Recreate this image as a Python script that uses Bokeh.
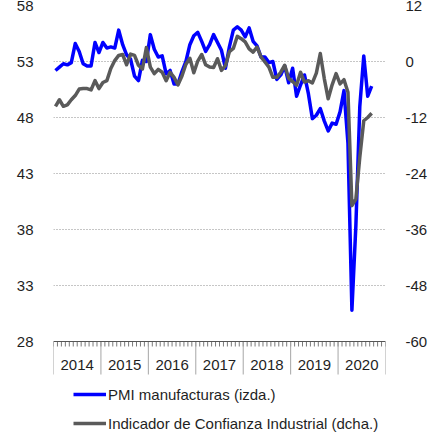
import numpy as np
from bokeh.plotting import figure
from bokeh.models import Range1d, LinearAxis, FixedTicker, Legend, LegendItem, Span
from bokeh.core.properties import value
from bokeh.embed import file_html
from bokeh.resources import INLINE

# ---- data ----
years = ["2014", "2015", "2016", "2017", "2018", "2019", "2020"]

pmi = [52.2, 52.5, 52.8, 52.7, 52.9, 54.6, 53.9, 52.8, 52.6, 52.6, 54.7, 53.8,
       54.7, 54.2, 54.3, 54.2, 55.8, 54.5, 53.6, 53.2, 51.7, 51.3, 53.1, 53.0,
       55.4, 54.1, 53.4, 53.5, 51.9, 52.2, 51.0, 51.0, 52.1, 53.0, 54.5, 55.3,
       55.6, 54.8, 53.9, 54.5, 55.4, 54.7, 54.0, 52.4, 54.3, 55.8, 56.1, 55.8,
       55.2, 56.0, 54.8, 54.4, 53.4, 53.4, 52.9, 53.0, 51.4, 51.8, 52.6, 51.1,
       52.4, 49.9, 50.9, 51.8, 50.1, 47.9, 48.2, 48.8, 47.7, 46.8, 47.5, 47.4,
       48.5, 50.4, 45.7, 30.8, 38.3, 49.0, 53.5, 49.9, 50.8]

ici = [-9.6, -8.2, -9.6, -9.3, -8.2, -7.3, -5.9, -5.8, -5.8, -6.1, -4.1, -5.8,
       -4.5, -4.1, -1.5, 0.2, 1.3, 1.5, -0.7, 1.6, 1.3, -0.8, -1.6, 3.0,
       -1.2, -2.6, -1.7, -2.3, -4.1, -2.3, -3.4, -5.0, -3.1, -0.6, 0.7, -2.4,
       0.1, 1.5, -0.7, -1.2, -1.3, 0.6, -1.9, -0.9, 2.1, 2.8, 5.4, 4.9,
       4.2, 2.7, 2.0, 3.1, 1.0, -0.1, -1.2, -3.4, -3.4, -2.3, -0.8, -3.6,
       -4.3, -5.1, -2.3, -4.4, -4.1, -4.6, -2.5, 1.7, -3.6, -8.0, -5.0, -2.6,
       -4.8, -3.9, -6.6, -30.9, -29.5, -20.5, -12.7, -12.0, -11.1]

left_ticks = [28, 33, 38, 43, 48, 53, 58]
right_ticks = [-60, -48, -36, -24, -12, 0, 12]
right_labels = ["-60", "-48", "-36", "-24", "-12", "0", "12"]

label_pmi = "PMI manufacturas (izda.)"
label_ici = "Indicador de Confianza Industrial (dcha.)"

# ---- layout constants ----
W, H = 430, 435
BL, BR, BT, BB = 53, 42, 5, 0
frame_h = H - BT - BB
axis_px = 336                       # baseline (28) position from frame top
px_per_unit = axis_px / (left_ticks[-1] - left_ticks[0])
y_low = left_ticks[0] - (frame_h - axis_px) / px_per_unit
ratio = (right_ticks[-1] - right_ticks[0]) / (left_ticks[-1] - left_ticks[0])
pivot = 53.0
r_low = (y_low - pivot) * ratio
r_high = (left_ticks[-1] - pivot) * ratio

base = left_ticks[0]
tick_len = 5 / px_per_unit
sep_len = 33 / px_per_unit
lab_off = 23 / px_per_unit

n_months = 12 * len(years)
x = np.arange(len(pmi)) + 0.5

FONT = "Liberation Sans"
TXT = "#1f1f1f"

p = figure(width=W, height=H, x_range=Range1d(0, n_months),
           y_range=Range1d(y_low, left_ticks[-1]),
           x_axis_location=None,
           output_backend="svg", toolbar_location=None,
           min_border_left=BL, min_border_right=BR,
           min_border_top=BT, min_border_bottom=BB,
           outline_line_color=None,
           background_fill_color="white", border_fill_color="white")
p.extra_y_ranges = {"ici": Range1d(r_low, r_high)}

# left axis
ya = p.yaxis[0]
ya.ticker = FixedTicker(ticks=left_ticks)
ya.axis_line_color = None
ya.major_tick_line_color = None
ya.minor_tick_line_color = None
ya.major_label_text_font = FONT
ya.major_label_text_font_size = "15px"
ya.major_label_text_color = TXT
ya.major_label_standoff = 14

# right axis
ra = LinearAxis(y_range_name="ici", ticker=FixedTicker(ticks=right_ticks))
ra.major_label_overrides = {t: s for t, s in zip(right_ticks, right_labels)}
ra.axis_line_color = None
ra.major_tick_line_color = None
ra.minor_tick_line_color = None
ra.major_label_text_font = FONT
ra.major_label_text_font_size = "15px"
ra.major_label_text_color = TXT
ra.major_label_standoff = 14
p.add_layout(ra, "right")

# grid
p.xgrid.visible = False
p.ygrid[0].ticker = FixedTicker(ticks=left_ticks[1:])
p.ygrid[0].grid_line_color = "#8c8c8c"
p.ygrid[0].grid_line_dash = "1 2"
p.ygrid[0].grid_line_width = 1

# category (time) axis drawn at the 28 baseline
mids = [12 * k + 6 for k in range(len(years))]
bounds = [12 * k for k in range(len(years) + 1)]
months = list(range(n_months + 1))

p.segment(x0=months, y0=[base] * len(months), x1=months,
          y1=[base - tick_len] * len(months), line_color="#7a7a7a", line_width=1)
p.segment(x0=bounds, y0=[base] * len(bounds), x1=bounds,
          y1=[base - sep_len] * len(bounds), line_color="#a6a6a6", line_width=1)
p.add_layout(Span(location=base, dimension="width", line_color="#555555",
                  line_width=1))
p.text(x=mids, y=[base - lab_off] * len(mids), text=years,
       text_align="center", text_baseline="middle",
       text_font=value(FONT), text_font_size="15px", text_color=TXT)

# data lines
r_pmi = p.line(x, pmi, line_color="#0000ff", line_width=3.5, line_join="round")
r_ici = p.line(x, ici, y_range_name="ici", line_color="#5a5a5a",
               line_width=3.5, line_join="round")

legend = Legend(items=[LegendItem(label=label_pmi, renderers=[r_pmi]),
                       LegendItem(label=label_ici, renderers=[r_ici])],
                location=(20, 2), orientation="vertical",
                border_line_color=None, background_fill_alpha=0,
                padding=0, margin=0, spacing=9,
                glyph_width=33, glyph_height=20, label_height=20,
                label_standoff=2, label_text_font=FONT,
                label_text_font_size="15px", label_text_color=TXT)
p.add_layout(legend)

open("out.html", "w").write(file_html(p, INLINE))
